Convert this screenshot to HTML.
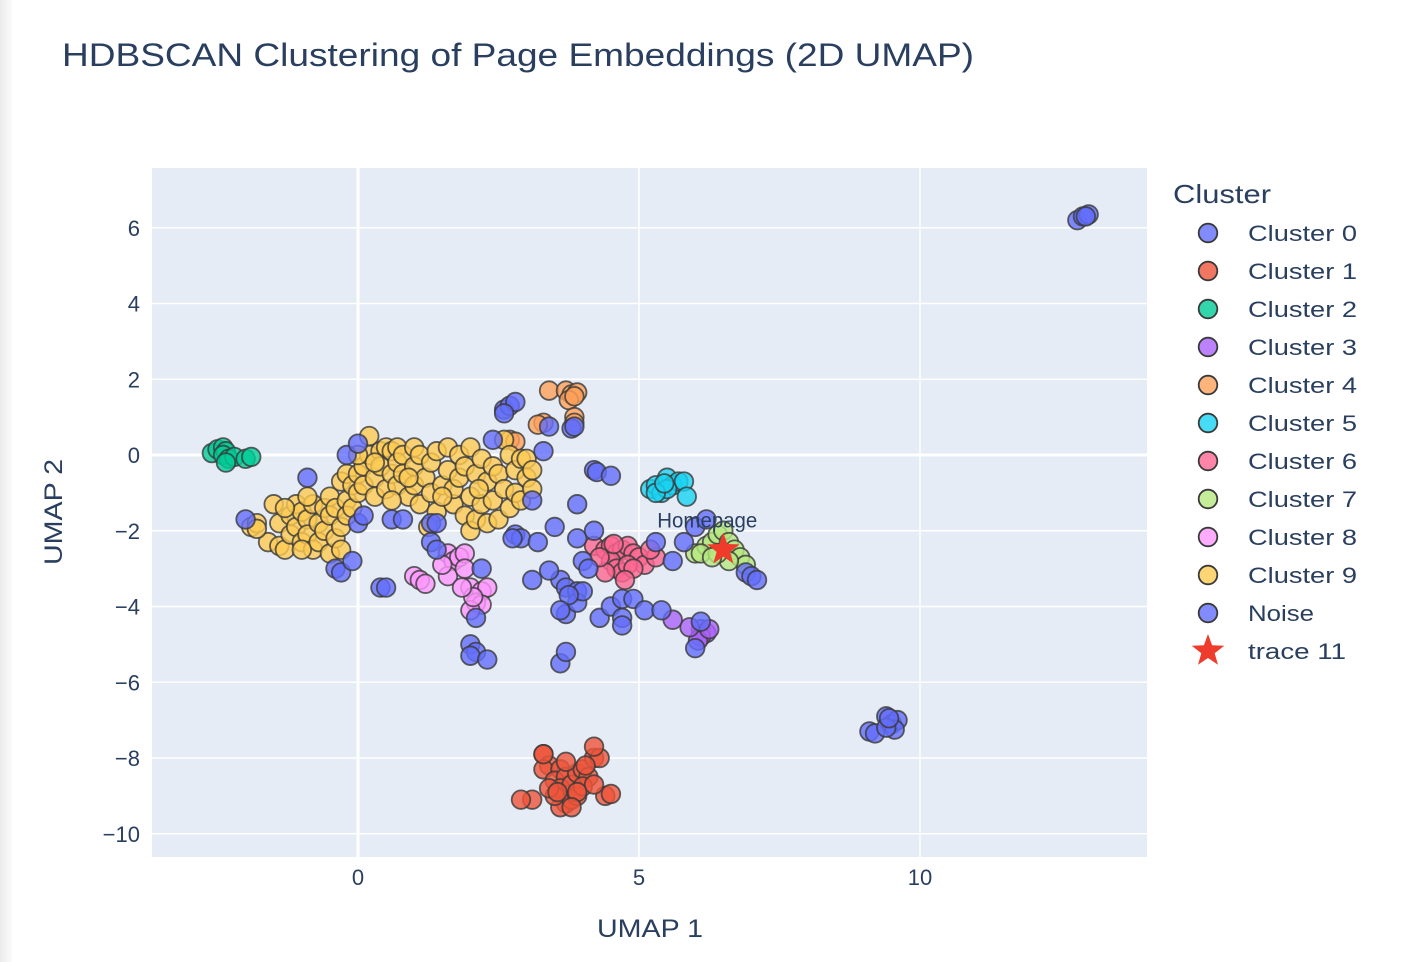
<!DOCTYPE html>
<html><head><meta charset="utf-8">
<style>
body{margin:0;background:#fff;font-family:"Liberation Sans",sans-serif;}
svg{display:block}
</style></head>
<body>
<svg id="chart" width="1424" height="962" xmlns="http://www.w3.org/2000/svg">
<defs><linearGradient id="lg" x1="0" x2="1"><stop offset="0" stop-color="#ececec"/><stop offset="1" stop-color="#fafafa"/></linearGradient></defs>
<rect x="0" y="0" width="1424" height="962" fill="#fff"/>
<rect x="0" y="0" width="12" height="962" fill="url(#lg)"/>
<text x="62" y="66" font-size="32" fill="#2a3f5f" textLength="912" lengthAdjust="spacingAndGlyphs">HDBSCAN Clustering of Page Embeddings (2D UMAP)</text>
<rect x="152" y="168" width="995" height="689" fill="#e5ecf6"/>
<g id="grid"></g>
<g id="marks"></g>
<g id="ticks"></g>
<text x="650" y="937" font-size="25" fill="#2a3f5f" text-anchor="middle" textLength="106" lengthAdjust="spacingAndGlyphs">UMAP 1</text>
<text x="62" y="512" font-size="25" fill="#2a3f5f" text-anchor="middle" transform="rotate(-90 62 512)" textLength="106" lengthAdjust="spacingAndGlyphs">UMAP 2</text>
<g id="legend"></g>
</svg>
<script>
const NS="http://www.w3.org/2000/svg";
const xTicks=[0,5,10];
const yTicks=[-10,-8,-6,-4,-2,0,2,4,6];
const clusterNames=["Cluster 0","Cluster 1","Cluster 2","Cluster 3","Cluster 4","Cluster 5","Cluster 6","Cluster 7","Cluster 8","Cluster 9","Noise"];
const clusterColors=["#636efa","#EF553B","#00cc96","#ab63fa","#FFA15A","#19d3f3","#FF6692","#B6E880","#FF97FF","#FECB52","#636efa"];
const c0=[[12.8,6.2],[12.9,6.3],[13.0,6.35],[12.95,6.3],[9.1,-7.3],[9.2,-7.35],[9.4,-6.9],[9.5,-7.1],[9.6,-7.0],[9.55,-7.25],[9.4,-7.2],[9.45,-6.95]];
const c1=[[3.3,-7.9],[3.4,-8.2],[3.3,-8.3],[3.6,-8.3],[3.5,-8.6],[3.7,-8.5],[3.6,-8.8],[3.8,-8.7],[3.9,-8.4],[4.0,-8.3],[4.1,-8.5],[4.2,-8.0],[4.3,-8.0],[4.2,-7.7],[3.7,-9.2],[3.6,-9.3],[3.8,-9.1],[3.9,-9.0],[3.5,-9.0],[3.4,-8.8],[3.1,-9.1],[2.9,-9.1],[4.4,-9.0],[4.5,-8.95],[4.0,-8.75],[4.2,-8.7],[3.9,-8.9],[3.7,-8.1],[3.3,-7.9],[3.8,-9.3],[4.05,-8.2],[3.55,-8.9]];
const c2=[[-2.6,0.05],[-2.5,0.15],[-2.4,0.2],[-2.35,0.1],[-2.4,0.0],[-2.3,-0.1],[-2.2,-0.05],[-2.0,-0.1],[-1.9,-0.05],[-2.35,-0.2]];
const c3=[[6.1,-4.6],[6.2,-4.7],[6.1,-4.8],[6.05,-4.9],[5.9,-4.55],[5.6,-4.35],[6.25,-4.6]];
const c4=[[3.4,1.7],[3.7,1.7],[3.8,1.6],[3.9,1.65],[3.75,1.45],[3.85,1.55],[3.85,1.0],[3.85,0.85],[3.3,0.85],[3.2,0.8],[2.7,0.4],[2.8,0.35]];
const c5=[[5.2,-0.9],[5.3,-0.8],[5.4,-1.0],[5.5,-0.6],[5.6,-0.8],[5.7,-0.7],[5.8,-0.7],[5.5,-0.9],[5.3,-1.0],[5.85,-1.1],[5.45,-0.75]];
const c6=[[4.2,-2.4],[4.4,-2.5],[4.5,-2.4],[4.6,-2.6],[4.7,-2.5],[4.8,-2.4],[4.9,-2.6],[5.0,-2.7],[5.1,-2.9],[4.5,-2.8],[4.6,-3.0],[4.7,-3.1],[4.8,-2.9],[4.9,-3.0],[4.4,-3.1],[4.3,-2.7],[4.75,-3.3],[5.3,-2.7],[4.55,-2.35],[5.2,-2.5]];
const c7=[[6.0,-2.6],[6.2,-2.4],[6.3,-2.3],[6.4,-2.1],[6.5,-2.0],[6.6,-2.3],[6.7,-2.5],[6.8,-2.7],[6.9,-2.9],[6.6,-2.8],[6.1,-2.6],[6.4,-2.6],[6.3,-2.7]];
const c8=[[1.0,-3.2],[1.1,-3.3],[1.2,-3.4],[1.6,-2.6],[1.7,-2.8],[1.8,-2.7],[1.9,-2.6],[1.6,-3.2],[1.9,-3.0],[2.0,-3.5],[2.2,-3.6],[2.3,-3.5],[2.1,-3.9],[2.2,-3.95],[2.0,-4.1],[1.5,-2.9],[2.05,-3.75],[1.85,-3.5]];
const c9=[[-1.9,-1.9],[-1.8,-1.8],[-1.6,-2.3],[-1.5,-1.3],[-1.4,-1.8],[-1.4,-2.4],[-1.3,-2.5],[-1.2,-1.6],[-1.2,-2.1],[-1.1,-1.3],[-1.1,-1.9],[-1.0,-2.3],[-1.0,-1.5],[-0.9,-1.7],[-0.9,-2.1],[-0.8,-1.3],[-0.8,-2.5],[-0.7,-1.8],[-0.7,-2.3],[-0.6,-2.0],[-0.6,-1.4],[-0.5,-1.1],[-0.5,-1.6],[-0.5,-2.6],[-0.4,-2.2],[-0.4,-1.4],[-0.3,-0.7],[-0.3,-2.5],[-0.3,-1.9],[-0.2,-0.5],[-0.2,-1.2],[-0.2,-1.6],[-0.1,-0.8],[-0.1,-1.4],[0.0,-0.5],[0.0,-1.0],[0.1,-0.3],[0.1,-0.8],[0.2,0.5],[0.2,0.0],[0.3,-0.6],[0.3,-1.1],[0.4,0.1],[0.4,-0.3],[0.5,-0.9],[0.5,0.2],[0.6,0.1],[0.6,-0.5],[0.7,0.2],[0.7,-0.2],[0.7,-0.8],[0.8,0.0],[0.8,-0.5],[0.9,-1.1],[1.0,0.2],[1.0,-0.3],[1.0,-0.8],[1.1,-1.3],[1.1,0.0],[1.2,-0.6],[1.3,-1.0],[1.3,-0.2],[1.4,0.1],[1.4,-1.5],[1.5,-0.8],[1.6,-0.4],[1.6,0.2],[1.7,-1.3],[1.7,-0.9],[1.8,0.0],[1.8,-0.6],[1.9,-1.6],[1.9,-0.3],[2.0,-2.0],[2.0,0.2],[2.0,-1.1],[2.1,-1.7],[2.1,-0.5],[2.2,-1.3],[2.2,-0.1],[2.3,-0.7],[2.3,-1.8],[2.4,-0.3],[2.4,-1.2],[2.5,-1.7],[2.5,-0.5],[2.6,0.4],[2.6,-0.9],[2.7,-1.4],[2.7,0.0],[2.8,-0.4],[2.8,-1.0],[2.9,-1.2],[2.9,-0.1],[3.0,-0.6],[3.0,-0.1],[3.1,-0.4],[3.1,-0.9],[-1.0,-2.5],[-1.3,-1.4],[-1.8,-1.95],[-0.9,-1.1],[0.9,-0.6],[1.5,-1.1],[2.15,-0.9],[0.6,-1.2],[0.0,0.0],[0.3,-0.2],[1.25,-1.9]];
const noise=[[-0.2,0.0],[0.0,0.3],[-0.9,-0.6],[-2.0,-1.7],[-0.4,-3.0],[-0.3,-3.1],[-0.1,-2.8],[0.0,-1.8],[0.1,-1.6],[0.4,-3.5],[0.5,-3.5],[0.6,-1.7],[0.8,-1.7],[1.3,-1.8],[1.3,-2.3],[1.4,-2.5],[1.4,-1.8],[2.0,-5.0],[2.1,-5.2],[2.0,-5.3],[2.3,-5.4],[2.1,-4.3],[2.2,-3.0],[2.4,0.4],[2.6,1.2],[2.7,1.3],[2.8,1.4],[2.6,1.1],[2.8,-2.1],[2.9,-2.2],[2.75,-2.2],[3.1,-1.2],[3.2,-2.3],[3.3,0.1],[3.4,0.75],[3.6,-3.3],[3.6,-5.5],[3.7,-5.2],[3.7,-3.5],[3.7,-4.2],[3.8,0.7],[3.85,0.75],[3.9,-1.3],[3.9,-2.2],[3.9,-3.6],[3.9,-3.9],[4.0,-2.8],[4.0,-3.6],[4.1,-3.0],[4.2,-0.4],[4.25,-0.45],[4.2,-2.0],[4.3,-4.3],[4.5,-0.55],[4.5,-4.0],[4.7,-4.3],[4.7,-3.8],[4.9,-3.8],[5.1,-4.1],[5.3,-2.3],[5.4,-4.1],[5.6,-2.8],[5.8,-2.3],[6.0,-1.9],[6.2,-1.7],[6.1,-4.4],[6.0,-5.1],[6.9,-3.1],[7.0,-3.2],[7.1,-3.3],[3.5,-1.9],[3.4,-3.05],[3.1,-3.3],[3.75,-3.7],[4.7,-4.5],[3.6,-4.1]];
const series=[c0,c1,c2,c3,c4,c5,c6,c7,c8,c9,noise];
const star=[[6.5,-2.5]];
const starLabel="Homepage";

const X0=358,XS=56.2,Y0=455,YS=37.875,PL=152,PR=1147,PT=168,PB=857;
const xs=v=>X0+v*XS, ys=v=>Y0-v*YS;
function mk(tag,attrs,parent){const e=document.createElementNS(NS,tag);for(const k in attrs)e.setAttribute(k,attrs[k]);parent.appendChild(e);return e;}
const grid=document.getElementById('grid'),ticks=document.getElementById('ticks'),marks=document.getElementById('marks'),legend=document.getElementById('legend');
xTicks.forEach(t=>{
  const l=mk('line',{x1:xs(t),x2:xs(t),y1:PT,y2:PB,stroke:'#fff','stroke-width':t===0?3:1.5},grid);
  
  
  const tx=mk('text',{x:xs(t),y:885,'font-size':22,fill:'#2a3f5f','text-anchor':'middle'},ticks);
  tx.textContent=String(t).replace('-','\u2212');
  
  
});
yTicks.forEach(t=>{
  const l=mk('line',{x1:PL,x2:PR,y1:ys(t),y2:ys(t),stroke:'#fff','stroke-width':t===0?3:1.5},grid);
  
  
  const tx=mk('text',{x:140,y:ys(t)+8,'font-size':22,fill:'#2a3f5f','text-anchor':'end'},ticks);
  tx.textContent=String(t).replace('-','\u2212');
  
  
});
function starPath(cx,cy,R,r){let d='';for(let i=0;i<10;i++){const a=-Math.PI/2+i*Math.PI/5;const rr=i%2?r:R;d+=(i?'L':'M')+(cx+rr*Math.cos(a)).toFixed(1)+','+(cy+rr*Math.sin(a)).toFixed(1);}return d+'Z';}
series.forEach((pts,i)=>{
  const g=mk('g',{},marks);
  
  
  pts.forEach(p=>{
    const c=mk('circle',{cx:xs(p[0]),cy:ys(p[1]),r:9.3,fill:clusterColors[i],'fill-opacity':0.8,stroke:'#3a3a3a','stroke-opacity':0.8,'stroke-width':1.8},g);
    
    
  });
});
star.forEach(p=>{
  const s=mk('path',{d:starPath(xs(p[0]),ys(p[1]),17,7),fill:'#EF3B2C'},marks);
  
  
  const t=mk('text',{x:xs(p[0])-16,y:ys(p[1])-22,'font-size':21,fill:'#2a3f5f','text-anchor':'middle',textLength:100,lengthAdjust:'spacingAndGlyphs'},marks);
  t.textContent=starLabel;
  
  
});
const lt=mk('text',{x:1173,y:203,'font-size':26,fill:'#2a3f5f',textLength:98,lengthAdjust:'spacingAndGlyphs'},legend);
lt.textContent='Cluster';


const legendWidths=[109,109,109,109,109,109,109,109,109,109,66,98];
clusterNames.concat(['trace 11']).forEach((n,i)=>{
  const y=233+i*38;
  const g=mk('g',{},legend);
  
  
  if(i<clusterNames.length) mk('circle',{cx:1208,cy:y,r:9.3,fill:clusterColors[i],'fill-opacity':0.8,stroke:'#3a3a3a','stroke-width':1.8},g);
  else mk('path',{d:starPath(1208,y,17,7),fill:'#EF3B2C'},g);
  const t=mk('text',{x:1248,y:y+8,'font-size':22,fill:'#2a3f5f',textLength:legendWidths[i],lengthAdjust:'spacingAndGlyphs'},g);
  t.textContent=n;
});
</script>
</body></html>
